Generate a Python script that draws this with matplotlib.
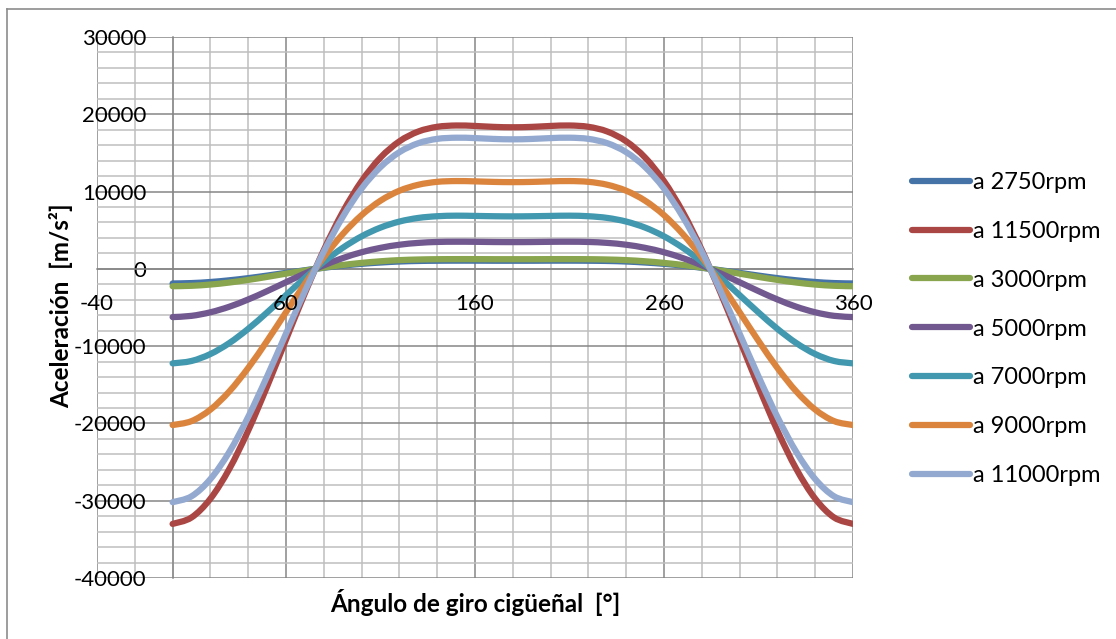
import matplotlib
matplotlib.use("Agg")
import matplotlib.pyplot as plt
from matplotlib.lines import Line2D
from matplotlib.path import Path
from matplotlib.patches import PathPatch
from matplotlib.ticker import MultipleLocator, FixedLocator

plt.rcParams['font.family'] = ['Lato', 'DejaVu Sans']
plt.rcParams['axes.unicode_minus'] = False

# crank angle, degrees
angle = list(range(0, 361, 10))

# acceleration, m/s^2
a_2750 = [-1890, -1840, -1700, -1480, -1200, -870, -520, -180, 140, 420, 650, 820, 950, 1020, 1050, 1060, 1060, 1050, 1050,
          1050, 1060, 1060, 1050, 1020, 950, 820, 650, 420, 140, -180, -520, -870, -1200, -1480, -1700, -1840, -1890]
a_11500 = [-33000, -32170, -29740, -25890, -20930, -15220, -9160, -3150, 2440, 7340, 11350, 14400, 16500, 17770, 18380, 18550, 18490, 18370, 18320,
           18370, 18490, 18550, 18380, 17770, 16500, 14400, 11350, 7340, 2440, -3150, -9160, -15220, -20930, -25890, -29740, -32170, -33000]
a_3000 = [-2250, -2190, -2030, -1770, -1430, -1040, -620, -220, 170, 500, 770, 980, 1130, 1210, 1250, 1260, 1260, 1250, 1250,
          1250, 1260, 1260, 1250, 1210, 1130, 980, 770, 500, 170, -220, -620, -1040, -1430, -1770, -2030, -2190, -2250]
a_5000 = [-6240, -6080, -5620, -4900, -3960, -2880, -1730, -600, 460, 1390, 2150, 2720, 3120, 3360, 3480, 3510, 3500, 3470, 3460,
          3470, 3500, 3510, 3480, 3360, 3120, 2720, 2150, 1390, 460, -600, -1730, -2880, -3960, -4900, -5620, -6080, -6240]
a_7000 = [-12230, -11920, -11020, -9600, -7760, -5640, -3400, -1170, 910, 2720, 4210, 5340, 6120, 6590, 6810, 6880, 6850, 6810, 6790,
          6810, 6850, 6880, 6810, 6590, 6120, 5340, 4210, 2720, 910, -1170, -3400, -5640, -7760, -9600, -11020, -11920, -12230]
a_9000 = [-20210, -19700, -18210, -15860, -12820, -9320, -5610, -1930, 1500, 4490, 6950, 8820, 10110, 10880, 11260, 11360, 11320, 11250, 11220,
          11250, 11320, 11360, 11260, 10880, 10110, 8820, 6950, 4490, 1500, -1930, -5610, -9320, -12820, -15860, -18210, -19700, -20210]
a_11000 = [-30190, -29430, -27200, -23690, -19150, -13920, -8380, -2890, 2230, 6710, 10390, 13170, 15100, 16260, 16820, 16970, 16920, 16810, 16760,
           16810, 16920, 16970, 16820, 16260, 15100, 13170, 10390, 6710, 2230, -2890, -8380, -13920, -19150, -23690, -27200, -29430, -30190]

series = [a_2750, a_11500, a_3000, a_5000, a_7000, a_9000, a_11000]
labels = ["a 2750rpm", "a 11500rpm", "a 3000rpm", "a 5000rpm", "a 7000rpm", "a 9000rpm", "a 11000rpm"]
colors = ["#4572A7", "#AA4643", "#89A54E", "#71588F", "#4198AF", "#DB843D", "#93A9CF"]

x_ticks = [-40, 60, 160, 260, 360]

LW = 4.5


def smooth_path(xs, ys):
    # excel style "smoothed line": bezier segments through the data points
    n = len(xs)
    verts = [(xs[0], ys[0])]
    codes = [Path.MOVETO]
    for i in range(n - 1):
        a = max(i - 1, 0)
        d = min(i + 2, n - 1)
        c1 = (xs[i] + (xs[i + 1] - xs[a]) / 6, ys[i] + (ys[i + 1] - ys[a]) / 6)
        c2 = (xs[i + 1] - (xs[d] - xs[i]) / 6, ys[i + 1] - (ys[d] - ys[i]) / 6)
        verts += [c1, c2, (xs[i + 1], ys[i + 1])]
        codes += [Path.CURVE4] * 3
    return Path(verts, codes)


fig = plt.figure(figsize=(11.16, 6.39), dpi=100)
ax = fig.add_axes([97 / 1116, 61 / 639, 756 / 1116, 541 / 639])

for vals, col in zip(series, colors):
    ax.add_patch(PathPatch(smooth_path(angle, vals), fill=False, edgecolor=col, lw=LW,
                           capstyle='round', joinstyle='round', zorder=3))

ax.set_xlim(-40, 360)
ax.set_ylim(-40000, 30000)
ax.xaxis.set_major_locator(FixedLocator(x_ticks))
ax.xaxis.set_minor_locator(MultipleLocator(20))
ax.yaxis.set_major_locator(MultipleLocator(10000))
ax.yaxis.set_minor_locator(MultipleLocator(2000))

ax.grid(which='minor', color='#BEBEBE', lw=1.1, zorder=0)
ax.grid(which='major', color='#868686', lw=1.1, zorder=1)

# axes cross at the origin, like the original
for side in ['top', 'right']:
    ax.spines[side].set_visible(False)
ax.spines['left'].set_position(('data', 0))
ax.spines['bottom'].set_position(('data', 0))
for side in ['left', 'bottom']:
    ax.spines[side].set_color('#868686')
    ax.spines[side].set_linewidth(1.1)
    ax.spines[side].set_zorder(2)

ax.tick_params(which='both', length=0)
ax.tick_params(axis='y', labelsize=16, pad=19)
ax.set_xticklabels([])

# x labels sit on top of the curves in the original
for t in x_ticks:
    ax.annotate(str(t), xy=(t, 0), xytext=(0, -18), textcoords='offset points',
                ha='center', va='top', fontsize=16, zorder=5, annotation_clip=False)

fig.text(475 / 1116, 1 - 603 / 639, "Ángulo de giro cigüeñal  [°]", ha='center', va='center',
         fontsize=17.5, fontweight='bold')
fig.text(61 / 1116, 1 - 306 / 639, "Aceleración  [m/s²]", ha='center', va='center',
         rotation=90, fontsize=17.5, fontweight='bold')

handles = [Line2D([0], [0], color=c, lw=LW, solid_capstyle='round') for c in colors]
fig.legend(handles, labels, loc='upper left', bbox_to_anchor=(912 / 1116, 1 - 172 / 639),
           frameon=False, fontsize=17, handlelength=2.45, handletextpad=0.13,
           labelspacing=1.18, borderpad=0, borderaxespad=0)

# chart area border (top and left edges visible)
fig.add_artist(Line2D([7 / 1116, 7 / 1116], [0, 1 - 9 / 639], color='#8C8C8C', lw=1.2))
fig.add_artist(Line2D([7 / 1116, 1], [1 - 9 / 639, 1 - 9 / 639], color='#8C8C8C', lw=1.2))

fig.savefig("out.png", dpi=100)
